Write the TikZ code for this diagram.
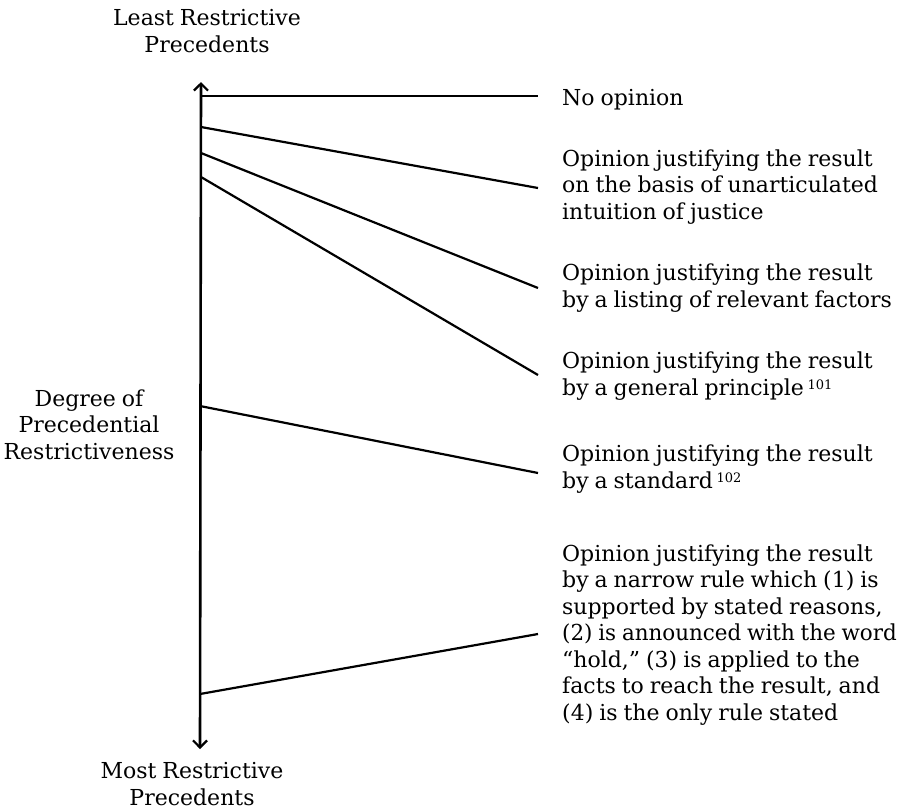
\documentclass[tikz,border=0pt]{standalone}
\usepackage{fontspec}
\setmainfont{DejaVu Serif}[WordSpace=0.85]
\usetikzlibrary{arrows.meta}
\begin{document}
\begin{tikzpicture}[x=1pt,y=-1pt,
  lbl/.style={inner sep=0pt,font=\fontsize{22}{26.5}\selectfont,align=left,anchor=base west},
  clbl/.style={inner sep=0pt,font=\fontsize{22}{26.5}\selectfont,align=center,anchor=base},
  conn/.style={line width=2.2pt},
  axisline/.style={line width=2.6pt,{Straight Barb[length=7pt,width=14pt,line width=2.2pt]}-{Straight Barb[length=7pt,width=14pt,line width=2.2pt]}}]
\useasboundingbox (0,0) rectangle (902,809);
% axis
\coordinate (top) at (201,82);
\coordinate (bot) at (200,749);
\draw[axisline] (bot) -- (top);
% start points on axis
\coordinate (s1) at (201,96);
\coordinate (s2) at (201,127);
\coordinate (s3) at (201,153);
\coordinate (s4) at (201,177);
\coordinate (s5) at (200,406);
\coordinate (s6) at (200,694);
% end points
\coordinate (e1) at (538,96);
\coordinate (e2) at (538,188);
\coordinate (e3) at (538,288);
\coordinate (e4) at (538,375);
\coordinate (e5) at (538,473);
\coordinate (e6) at (538,634);
\draw[conn] (s1) -- (e1);
\draw[conn] (s2) -- (e2);
\draw[conn] (s3) -- (e3);
\draw[conn] (s4) -- (e4);
\draw[conn] (s5) -- (e5);
\draw[conn] (s6) -- (e6);
% left labels (anchor = baseline of last line)
\node[clbl] (least) at (207,52) {Least Restrictive\\Precedents};
\node[clbl] (degree) at (89,459) {Degree of\\Precedential\\Restrictiveness};
\node[clbl] (most) at (192,805) {Most Restrictive\\Precedents};
% right labels (anchor = baseline of last line)
\node[lbl] (t1) at (562,105) {No opinion};
\node[lbl] (t2) at (562,219) {Opinion justifying the result\\on the basis of unarticulated\\intuition of justice};
\node[lbl] (t3) at (562,307) {Opinion justifying the result\\by a listing of relevant factors};
\node[lbl] (t4) at (562,395) {Opinion justifying the result\\by a general principle\,\raisebox{6pt}{\fontsize{13}{13}\selectfont 101}};
\node[lbl] (t5) at (562,488) {Opinion justifying the result\\by a standard\,\raisebox{6pt}{\fontsize{13}{13}\selectfont 102}};
\node[lbl] (t6) at (562,720) {Opinion justifying the result\\by a narrow rule which (1) is\\supported by stated reasons,\\\scalebox{0.975}[1]{(2) is announced with the word}\\“hold,” (3) is applied to the\\facts to reach the result, and\\(4) is the only rule stated};
\end{tikzpicture}
\end{document}
